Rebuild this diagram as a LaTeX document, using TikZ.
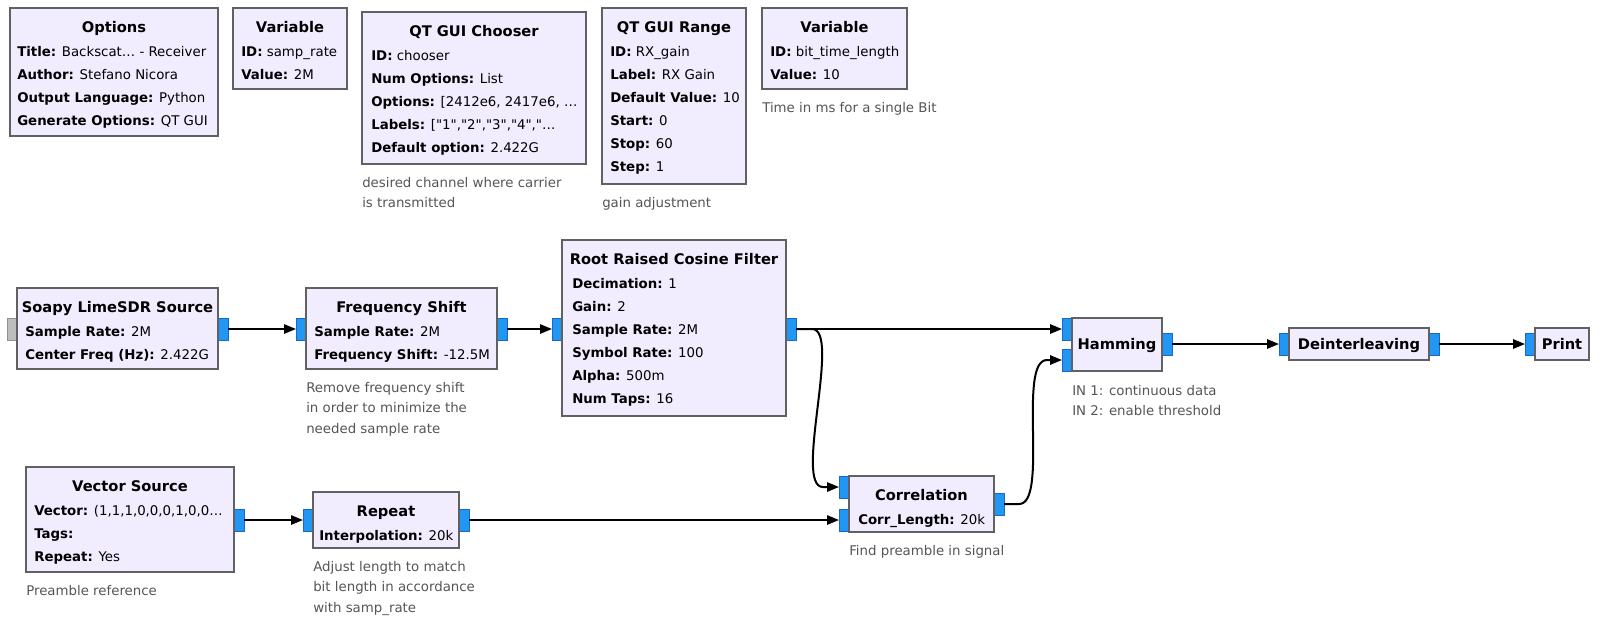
\documentclass[tikz,border=0pt]{standalone}
\usepackage{fontspec}
\setmainfont{DejaVu Sans}[Ligatures=TeXOff]
\usepackage{xcolor}
\usetikzlibrary{arrows.meta,calc}

\definecolor{blockfill}{RGB}{241,237,255}
\definecolor{blockline}{RGB}{97,97,97}
\definecolor{portfill}{RGB}{33,150,243}
\definecolor{portline}{RGB}{24,104,196}
\definecolor{grayfill}{RGB}{189,189,189}
\definecolor{grayline}{RGB}{145,145,145}
\definecolor{notegray}{RGB}{85,85,85}

\begin{document}
\begin{tikzpicture}[x=0.75pt, y=-0.75pt,
% common options for blocks:
block/.style = {draw=blockline, fill=blockfill, line width=1.5pt, rectangle,
            anchor=north west, inner sep=0, outer sep=0},
bsize/.style 2 args = {minimum width=#1*0.75pt, minimum height=#2*0.75pt},
% common options for the ports:
port/.style = {draw=portline, fill=portfill, line width=0.75pt, rectangle,
            minimum width=7.5pt, minimum height=16.5pt, inner sep=0, outer sep=0},
gport/.style = {port, draw=grayline, fill=grayfill},
% texts:
title/.style = {font=\fontsize{11}{13}\selectfont\bfseries, anchor=base, inner sep=0},
param/.style = {font=\fontsize{10}{12}\selectfont, anchor=base west, inner sep=0},
note/.style = {font=\fontsize{10}{12}\selectfont, text=notegray, anchor=base west, inner sep=0},
wire/.style = {line width=1.5pt, -{Triangle[length=9pt,width=7pt]}}]
\useasboundingbox (0,0) rectangle (1602,626);

% ports
\node[gport] (soapy-in) at (12,329) {};
\node[port] (soapy-out) at (223,329) {};
\node[port] (fs-in) at (301,329) {};
\node[port] (fs-out) at (502,329) {};
\node[port] (rrc-in) at (557,329) {};
\node[port] (rrc-out) at (791,329) {};
\node[port] (ham-in1) at (1067,329) {};
\node[port] (ham-in2) at (1067,360) {};
\node[port] (ham-out) at (1167,344) {};
\node[port] (dil-in) at (1284,344) {};
\node[port] (dil-out) at (1434,344) {};
\node[port] (prt-in) at (1530,344) {};
\node[port] (vec-out) at (239,520) {};
\node[port] (rep-in) at (308,520) {};
\node[port] (rep-out) at (464,520) {};
\node[port] (corr-in1) at (844,487) {};
\node[port] (corr-in2) at (844,520) {};
\node[port] (corr-out) at (999,504) {};

% blocks
\node[block, bsize={208}{128}] (opt) at (10,8) {};
\node[block, bsize={114}{81}] (var1) at (233,8) {};
\node[block, bsize={224}{152}] (chs) at (362,12) {};
\node[block, bsize={144}{176}] (rng) at (602,8) {};
\node[block, bsize={145}{81}] (var2) at (762,8) {};
\node[block, bsize={201}{81}] (soapy) at (17,288) {};
\node[block, bsize={191}{81}] (fs) at (306,288) {};
\node[block, bsize={224}{176}] (rrc) at (562,240) {};
\node[block, bsize={90}{53}] (ham) at (1072,318) {};
\node[block, bsize={140}{32}] (dil) at (1289,328) {};
\node[block, bsize={54}{32}] (prt) at (1535,328) {};
\node[block, bsize={208}{105}] (vec) at (26,467) {};
\node[block, bsize={146}{56}] (rep) at (313,492) {};
\node[block, bsize={145}{56}] (corr) at (849,476) {};

% Options
\node[title] (opt-t) at (114,32) {Options};
\node[param] (opt-1) at (17,56) {\textbf{Title:} Backscat… - Receiver};
\node[param] (opt-2) at (17,79) {\textbf{Author:} Stefano Nicora};
\node[param] (opt-3) at (17,102) {\textbf{Output Language:} Python};
\node[param] (opt-4) at (17,125) {\textbf{Generate Options:} QT GUI};

% Variable
\node[title] (var1-t) at (290,32) {Variable};
\node[param] (var1-1) at (241,56) {\textbf{ID:} samp\_rate};
\node[param] (var1-2) at (241,79) {\textbf{Value:} 2M};

% QT GUI Chooser
\node[title] (chs-t) at (474,36) {QT GUI Chooser};
\node[param] (chs-1) at (371,60) {\textbf{ID:} chooser};
\node[param] (chs-2) at (371,83) {\textbf{Num Options:} List};
\node[param] (chs-3) at (371,106) {\textbf{Options:} [2412e6, 2417e6, …};
\node[param] (chs-4) at (371,129) {\textbf{Labels:} ["1","2","3","4","…};
\node[param] (chs-5) at (371,152) {\textbf{Default option:} 2.422G};
\node[note] (chs-n1) at (362,187) {desired channel where carrier};
\node[note] (chs-n2) at (362,207.5) {is transmitted};

% QT GUI Range
\node[title] (rng-t) at (674,32) {QT GUI Range};
\node[param] (rng-1) at (610,56) {\textbf{ID:} RX\_gain};
\node[param] (rng-2) at (610,79) {\textbf{Label:} RX Gain};
\node[param] (rng-3) at (610,102) {\textbf{Default Value:} 10};
\node[param] (rng-4) at (610,125) {\textbf{Start:} 0};
\node[param] (rng-5) at (610,148) {\textbf{Stop:} 60};
\node[param] (rng-6) at (610,171) {\textbf{Step:} 1};
\node[note] (rng-n) at (602,207) {gain adjustment};

% Variable
\node[title] (var2-t) at (834.5,32) {Variable};
\node[param] (var2-1) at (770,56) {\textbf{ID:} bit\_time\_length};
\node[param] (var2-2) at (770,79) {\textbf{Value:} 10};
\node[note] (var2-n) at (762,112) {Time in ms for a single Bit};

% Soapy LimeSDR Source
\node[title] (soapy-t) at (117.5,312) {Soapy LimeSDR Source};
\node[param] (soapy-1) at (25,336) {\textbf{Sample Rate:} 2M};
\node[param] (soapy-2) at (25,359) {\textbf{Center Freq (Hz):} 2.422G};

% Frequency Shift
\node[title] (fs-t) at (401.5,312) {Frequency Shift};
\node[param] (fs-1) at (314,336) {\textbf{Sample Rate:} 2M};
\node[param] (fs-2) at (314,359) {\textbf{Frequency Shift:} -12.5M};
\node[note] (fs-n1) at (306,392) {Remove frequency shift};
\node[note] (fs-n2) at (306,412.5) {in order to minimize the};
\node[note] (fs-n3) at (306,433) {needed sample rate};

% Root Raised Cosine Filter
\node[title] (rrc-t) at (674,264) {Root Raised Cosine Filter};
\node[param] (rrc-1) at (572,288) {\textbf{Decimation:} 1};
\node[param] (rrc-2) at (572,311) {\textbf{Gain:} 2};
\node[param] (rrc-3) at (572,334) {\textbf{Sample Rate:} 2M};
\node[param] (rrc-4) at (572,357) {\textbf{Symbol Rate:} 100};
\node[param] (rrc-5) at (572,380) {\textbf{Alpha:} 500m};
\node[param] (rrc-6) at (572,403) {\textbf{Num Taps:} 16};

% Hamming, Deinterleaving, Print
\node[title] (ham-t) at (1117,349) {Hamming};
\node[note] (ham-n1) at (1072,395) {IN 1: continuous data};
\node[note] (ham-n2) at (1072,415.5) {IN 2: enable threshold};
\node[title] (dil-t) at (1359,349) {Deinterleaving};
\node[title] (prt-t) at (1562,349) {Print};

% Vector Source
\node[title] (vec-t) at (130,491) {Vector Source};
\node[param] (vec-1) at (34,515) {\textbf{Vector:} (1,1,1,0,0,0,1,0,0…};
\node[param] (vec-2) at (34,538) {\textbf{Tags:}};
\node[param] (vec-3) at (34,561) {\textbf{Repeat:} Yes};
\node[note] (vec-n) at (26,595) {Preamble reference};

% Repeat
\node[title] (rep-t) at (386,516) {Repeat};
\node[param] (rep-1) at (319,540) {\textbf{Interpolation:} 20k};
\node[note] (rep-n1) at (313,571) {Adjust length to match};
\node[note] (rep-n2) at (313,591.5) {bit length in accordance};
\node[note] (rep-n3) at (313,612) {with samp\_rate};

% Correlation
\node[title] (corr-t) at (921.5,500) {Correlation};
\node[param] (corr-1) at (858,524) {\textbf{Corr\_Length:} 20k};
\node[note] (corr-n) at (849,555) {Find preamble in signal};

% connections
\draw[wire] (soapy-out.east) -- (fs-in.west);
\draw[wire] (fs-out.east) -- (rrc-in.west);
\draw[wire] (rrc-out.east) -- (ham-in1.west);
\draw[wire] (ham-out.east) -- (dil-in.west);
\draw[wire] (dil-out.east) -- (prt-in.west);
\draw[wire] (vec-out.east) -- (rep-in.west);
\draw[wire] (rep-out.east) -- (corr-in2.west);
\draw[wire] (rrc-out.east) -- ++(16,0) .. controls +(30,0) and +(-30,0) .. ($(corr-in1.west)+(-16,0)$) -- (corr-in1.west);
\draw[wire] (corr-out.east) -- ++(15,0) .. controls +(30,0) and +(-30,0) .. ($(ham-in2.west)+(-15,0)$) -- (ham-in2.west);
\end{tikzpicture}
\end{document}
